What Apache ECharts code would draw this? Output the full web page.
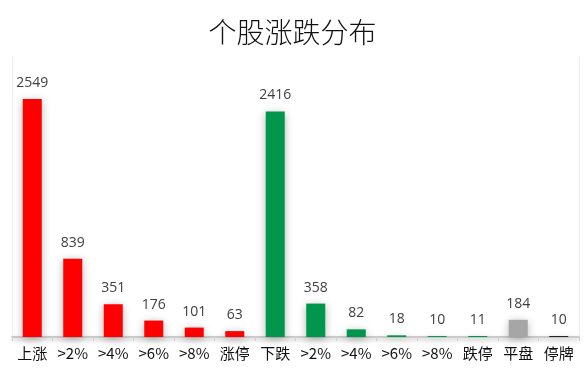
<!DOCTYPE html>
<html><head><meta charset="utf-8">
<script src="https://cdn.jsdelivr.net/npm/echarts@6/dist/echarts.min.js"></script>
<style>html,body{margin:0;padding:0;background:#fff}#c{width:585px;height:372px}</style>
</head><body><div id="c"></div>
<script>
const categories = ['上涨','>2%','>4%','>6%','>8%','涨停','下跌','>2%','>4%','>6%','>8%','跌停','平盘','停牌'];
const values = [2549,839,351,176,101,63,2416,358,82,18,10,11,184,10];
const colors = ['#FF0000','#FF0000','#FF0000','#FF0000','#FF0000','#FF0000','#00964B','#00964B','#00964B','#00964B','#00964B','#00964B','#A6A6A6','#1A1A1A'];
const chart = echarts.init(document.getElementById('c'));
chart.setOption({
  animation:false,
  backgroundColor:'#fff',
  title:{text:'个股涨跌分布',left:'center',top:13,textStyle:{fontFamily:'Noto Sans CJK SC',fontWeight:'300',fontSize:28,color:'#111'}},
  grid:{left:12,right:6,top:57,bottom:35},
  xAxis:{type:'category',data:categories,
    axisLine:{lineStyle:{color:'#BFBFBF',width:1.5,shadowColor:'rgba(0,0,0,0.35)',shadowBlur:4,shadowOffsetY:2}},
    axisTick:{show:true,length:4,lineStyle:{color:'#D0D0D0'}},
    axisLabel:{color:'#111',fontSize:15,margin:9,fontFamily:'Noto Sans CJK SC',interval:0}},
  yAxis:[{type:'value',min:0,max:3000,splitLine:{show:false},axisLabel:{show:false},axisTick:{show:false},
    axisLine:{show:true,lineStyle:{color:'#EDEDED'}}},
    {type:'value',min:0,max:3000,position:'right',splitLine:{show:false},axisLabel:{show:false},axisTick:{show:false},
    axisLine:{show:true,lineStyle:{color:'#EDEDED'}}}],
  series:[{type:'bar',barWidth:19,
    data:values.map((v,i)=>({value:v,itemStyle:{color:colors[i]}})),
    itemStyle:{shadowColor:'rgba(0,0,0,0.3)',shadowBlur:8,shadowOffsetY:2},
    label:{show:true,position:'top',distance:9,color:'#404040',fontSize:14,fontFamily:'Open Sans'}}]
});
</script></body></html>
